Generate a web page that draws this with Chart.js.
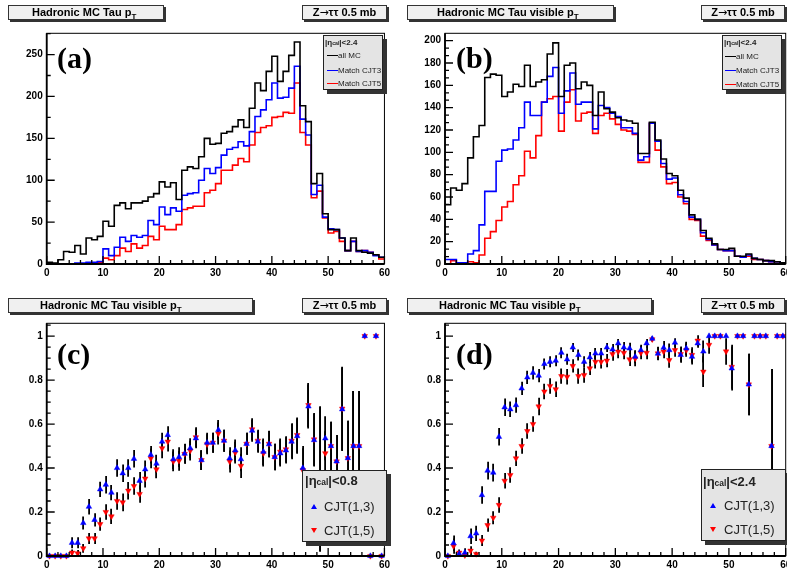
<!DOCTYPE html>
<html><head><meta charset="utf-8">
<script src="https://cdn.jsdelivr.net/npm/chart.js@4.4.1/dist/chart.umd.min.js"></script>
<style>
html,body{margin:0;padding:0;background:#fff;overflow:hidden;}
#page{position:relative;width:787px;height:571px;overflow:hidden;font-family:"Liberation Sans",Arial,sans-serif;}
.pane{position:absolute;}
.tbox{position:absolute;box-sizing:border-box;background:#f0f0f0;border:1px solid #333;box-shadow:2px 2px 0 #333;height:15px;}
.tbox span{position:absolute;top:0;line-height:13px;font-weight:bold;font-size:11px;white-space:nowrap;color:#000;}
.tbox sub{font-size:8px;vertical-align:-3px;line-height:0;}
.tbox .ar{position:static;font-family:"DejaVu Sans",sans-serif;font-weight:normal;font-size:11px;}
.plabel{position:absolute;font-family:"Liberation Serif","Times New Roman",serif;font-weight:bold;font-size:30px;line-height:30px;color:#000;}
.leg{position:absolute;box-sizing:border-box;background:#e4e4e4;border:1px solid #222;box-shadow:4px 4px 0 #333;overflow:hidden;}
.leg .t{position:absolute;white-space:nowrap;color:#222;}
.leg sub{font-size:65%;vertical-align:-25%;line-height:0;}
.ln{position:absolute;height:0;border-top:1.5px solid;}
.tri{position:absolute;width:0;height:0;border-left:3px solid transparent;border-right:3px solid transparent;}
</style></head>
<body><div id="page">
<div class="pane" style="left:0;top:0;width:393px;height:290px"><canvas id="ca" width="393" height="290"></canvas></div>
<div class="pane" style="left:395px;top:0;width:400px;height:290px"><canvas id="cb" width="400" height="290"></canvas></div>
<div class="pane" style="left:0;top:290px;width:393px;height:281px"><canvas id="cc" width="393" height="281"></canvas></div>
<div class="pane" style="left:395px;top:290px;width:400px;height:281px"><canvas id="cd" width="400" height="281"></canvas></div>

<div class="tbox" style="left:8px;top:5px;width:156px"><span style="left:23px">Hadronic MC Tau p<sub>T</sub></span></div>
<div class="tbox" style="left:302px;top:5px;width:85px"><span style="left:0;width:83px;text-align:center">Z<span class="ar">→</span>ττ 0.5 mb</span></div>
<div class="tbox" style="left:407px;top:5px;width:207px"><span style="left:29px">Hadronic MC Tau visible p<sub>T</sub></span></div>
<div class="tbox" style="left:701px;top:5px;width:84px"><span style="left:0;width:82px;text-align:center">Z<span class="ar">→</span>ττ 0.5 mb</span></div>
<div class="tbox" style="left:8px;top:298px;width:245px"><span style="left:31px">Hadronic MC Tau visible p<sub>T</sub></span></div>
<div class="tbox" style="left:302px;top:298px;width:85px"><span style="left:0;width:83px;text-align:center">Z<span class="ar">→</span>ττ 0.5 mb</span></div>
<div class="tbox" style="left:407px;top:298px;width:245px"><span style="left:31px">Hadronic MC Tau visible p<sub>T</sub></span></div>
<div class="tbox" style="left:701px;top:298px;width:84px"><span style="left:0;width:82px;text-align:center">Z<span class="ar">→</span>ττ 0.5 mb</span></div>

<div class="plabel" style="left:57px;top:43px">(a)</div>
<div class="plabel" style="left:456px;top:43px">(b)</div>
<div class="plabel" style="left:57px;top:339px">(c)</div>
<div class="plabel" style="left:456px;top:339px">(d)</div>

<div class="leg" style="left:323px;top:35px;width:60px;height:55px;font-size:8px">
  <div class="t" style="left:1px;top:1px;font-weight:bold;line-height:11px">|η<sub>cal</sub>|&lt;2.4</div>
  <div class="ln" style="left:3px;top:19px;width:11px;border-color:#000"></div>
  <div class="t" style="left:14px;top:15px;line-height:10px">all MC</div>
  <div class="ln" style="left:3px;top:34px;width:11px;border-color:#00f"></div>
  <div class="t" style="left:14px;top:30px;line-height:10px">Match CJT3</div>
  <div class="ln" style="left:3px;top:46.5px;width:11px;border-color:#f00"></div>
  <div class="t" style="left:14px;top:42.5px;line-height:10px">Match CJT5</div>
</div>
<div class="leg" style="left:722px;top:35px;width:60px;height:55px;font-size:8px">
  <div class="t" style="left:1px;top:1px;font-weight:bold;line-height:11px">|η<sub>cal</sub>|&lt;2.4</div>
  <div class="ln" style="left:2px;top:20px;width:11px;border-color:#000"></div>
  <div class="t" style="left:13px;top:16px;line-height:10px">all MC</div>
  <div class="ln" style="left:2px;top:34px;width:11px;border-color:#00f"></div>
  <div class="t" style="left:13px;top:30px;line-height:10px">Match CJT3</div>
  <div class="ln" style="left:2px;top:47.5px;width:11px;border-color:#f00"></div>
  <div class="t" style="left:13px;top:43.5px;line-height:10px">Match CJT5</div>
</div>
<div class="leg" style="left:302px;top:470px;width:85px;height:72px;font-size:13px">
  <div class="t" style="left:2px;top:2px;font-weight:bold;line-height:16px">|η<sub>cal</sub>|&lt;0.8</div>
  <div class="tri" style="left:8px;top:33px;border-bottom:5px solid #00f"></div>
  <div class="t" style="left:21px;top:28px;line-height:16px">CJT(1,3)</div>
  <div class="tri" style="left:8px;top:57px;border-top:5px solid #f00"></div>
  <div class="t" style="left:21px;top:52px;line-height:16px">CJT(1,5)</div>
</div>
<div class="leg" style="left:701px;top:469px;width:85px;height:72px;font-size:13px">
  <div class="t" style="left:1px;top:4px;font-weight:bold;line-height:16px">|η<sub>cal</sub>|&lt;2.4</div>
  <div class="tri" style="left:8px;top:33px;border-bottom:5px solid #00f"></div>
  <div class="t" style="left:22px;top:28px;line-height:16px">CJT(1,3)</div>
  <div class="tri" style="left:8px;top:57px;border-top:5px solid #f00"></div>
  <div class="t" style="left:22px;top:52px;line-height:16px">CJT(1,5)</div>
</div>
</div>
<script>
// ---------- data ----------
const binEdgeMin = 0, binEdgeMax = 60;
const xTickLabels = [0, 10, 20, 30, 40, 50, 60];

// (a) Hadronic MC Tau pT
const aAllMC = [2,1,5,15,14,22,12,31,29,33,51,45,70,73,66,73,73,75,80,84,98,92,97,77,112,116,114,128,150,143,144,156,158,164,172,163,186,216,207,230,248,218,230,249,265,189,170,96,108,60,41,41,31,16,31,16,14,13,11,8];
const aCJT3  = [0,0,0,0,0,1,1,2,2,3,18,10,20,32,27,34,32,34,52,47,68,59,67,63,82,84,85,100,114,108,115,130,137,139,146,141,158,176,184,196,216,198,199,210,236,173,154,83,94,56,42,41,31,16,27,15,16,14,10,8];
const aCJT5  = [0,0,0,0,0,0,0,0,1,2,7,5,10,19,15,24,19,22,33,29,45,41,41,47,65,67,69,69,85,88,96,112,112,118,126,122,142,157,163,165,175,176,181,180,216,157,142,79,87,55,37,39,27,16,27,15,16,14,11,6];

// (b) Hadronic MC Tau visible pT
const bAllMC = [53,68,66,72,95,114,124,167,170,169,150,154,161,159,178,159,163,165,188,198,150,178,180,157,163,160,133,154,139,136,131,129,128,126,99,99,127,111,94,81,79,66,59,44,40,30,23,18,13,13,14,7,7,9,5,4,3,3,2,1];
const bCJT3  = [4,4,1,1,9,12,35,65,65,92,102,103,111,122,145,133,133,145,168,176,135,155,171,143,145,145,121,142,140,135,132,122,122,117,93,96,126,110,90,76,77,62,56,42,40,28,22,17,13,12,12,7,6,8,5,4,3,2,2,1];
const bCJT5  = [0,3,1,1,2,1,8,23,29,39,51,56,71,79,101,95,115,145,148,150,119,145,156,128,135,136,117,133,135,130,125,120,119,116,91,91,126,102,87,72,73,60,54,40,39,25,21,17,13,12,12,7,6,7,4,4,3,2,2,1];

// (c) efficiency, |eta_cal|<0.8
const cCJT3 = [0,0,0,0,0.06,0.06,0.15,0.224,0.164,0.303,0.324,0.288,0.40,0.376,0.40,0.442,0.342,0.394,0.46,0.42,0.52,0.55,0.44,0.45,0.465,0.49,0.535,0.436,0.515,0.515,0.573,0.524,0.444,0.48,0.44,0.51,0.57,0.52,0.474,0.508,0.45,0.467,0.48,0.52,0.545,0.40,0.68,0.527,0.35,0.535,0.5,0.43,0.667,0.445,0.5,0.5,1,0,1,0];
const cCJT5 = [0,0,0,0,0.015,0.012,0.035,0.08,0.08,0.145,0.20,0.18,0.25,0.244,0.297,0.318,0.282,0.352,0.444,0.394,0.49,0.52,0.43,0.433,0.464,0.479,0.54,0.436,0.508,0.515,0.557,0.524,0.43,0.47,0.41,0.51,0.576,0.524,0.467,0.51,0.45,0.474,0.485,0.524,0.55,0.39,0.686,0.53,0.35,0.467,0.5,0.43,0.67,0.445,0.5,0.5,1,0,1,0];
const cErr3 = [0,0,0,0,0.025,0.025,0.03,0.035,0.03,0.035,0.04,0.035,0.04,0.04,0.04,0.04,0.04,0.04,0.04,0.04,0.04,0.04,0.045,0.045,0.045,0.045,0.045,0.045,0.045,0.045,0.045,0.05,0.05,0.05,0.055,0.05,0.05,0.05,0.06,0.06,0.06,0.06,0.06,0.08,0.08,0.1,0.1,0.12,0.33,0.1,0.11,0.12,0.19,0.17,0.25,0.25,0,0,0,0];
const cErr5 = [0,0,0,0,0.015,0.015,0.02,0.025,0.025,0.03,0.035,0.035,0.04,0.04,0.04,0.04,0.04,0.04,0.045,0.04,0.045,0.045,0.045,0.045,0.045,0.045,0.045,0.045,0.045,0.045,0.05,0.05,0.05,0.05,0.055,0.05,0.05,0.05,0.06,0.06,0.06,0.06,0.06,0.08,0.08,0.1,0.1,0.12,0.33,0.1,0.11,0.12,0.19,0.17,0.25,0.25,0,0,0,0];

// (d) efficiency, |eta_cal|<2.4
const dCJT3 = [0,0.058,0.01,0.015,0.09,0.103,0.277,0.388,0.379,0.542,0.676,0.667,0.686,0.762,0.812,0.833,0.82,0.873,0.883,0.888,0.924,0.894,0.948,0.914,0.883,0.903,0.921,0.921,0.948,0.939,0.967,0.948,0.944,0.906,0.936,0.967,0.988,0.92,0.947,0.936,0.97,0.914,0.944,0.906,0.967,0.93,1,1,1,1,0.853,1,1,0.78,1,1,1,0.5,1,1];
const dCJT5 = [0,0.045,0.015,0.003,0.024,0.009,0.07,0.14,0.174,0.232,0.342,0.368,0.444,0.5,0.568,0.6,0.68,0.748,0.773,0.758,0.818,0.815,0.864,0.818,0.823,0.853,0.883,0.883,0.888,0.918,0.929,0.924,0.894,0.898,0.924,0.924,0.985,0.921,0.929,0.891,0.936,0.918,0.936,0.914,0.979,0.838,0.96,1,1,0.93,0.86,1,1,0.78,1,1,1,0.5,1,1];
const dErr3 = [0,0.035,0.01,0.02,0.035,0.035,0.04,0.04,0.04,0.04,0.04,0.035,0.035,0.03,0.03,0.03,0.03,0.025,0.025,0.025,0.025,0.025,0.02,0.025,0.025,0.025,0.025,0.025,0.02,0.025,0.02,0.025,0.025,0.03,0.025,0.02,0.01,0.03,0.03,0.03,0.02,0.035,0.03,0.035,0.02,0.05,0,0,0,0,0.1,0,0,0.14,0,0,0,0.35,0,0];
const dErr5 = [0,0.035,0.015,0.01,0.02,0.01,0.025,0.03,0.03,0.035,0.035,0.035,0.035,0.035,0.035,0.035,0.04,0.035,0.035,0.035,0.035,0.035,0.03,0.035,0.035,0.03,0.03,0.03,0.03,0.03,0.03,0.03,0.03,0.035,0.03,0.03,0.01,0.03,0.03,0.035,0.03,0.035,0.03,0.035,0.025,0.07,0.04,0,0,0.06,0.1,0,0,0.14,0,0,0,0.35,0,0];

// ---------- helpers ----------
function histPoints(vals) {
  const pts = vals.map((v, i) => ({x: binEdgeMin + i, y: v}));
  pts.push({x: binEdgeMin + vals.length, y: vals[vals.length - 1]});
  return pts;
}
function centerPoints(vals) { return vals.map((v, i) => ({x: binEdgeMin + i + 0.5, y: v})); }

function histDS(vals, color) {
  return {data: histPoints(vals), stepped: true, borderColor: color, borderWidth: 1.6,
          pointRadius: 0, fill: false, tension: 0};
}
function effDS(vals, errs, color, down) {
  return {data: centerPoints(vals), errors: errs, showLine: false, pointStyle: 'triangle',
          pointRadius: 3.2, rotation: down ? 180 : 0, backgroundColor: color, borderColor: color,
          borderWidth: 0.5, clip: false};
}

const errPlugin = {
  id: 'errBars',
  beforeDatasetsDraw(chart) {
    const {ctx, chartArea: a, scales: {x, y}} = chart;
    ctx.save();
    ctx.beginPath(); ctx.rect(a.left, a.top - 2, a.right - a.left, a.bottom - a.top + 2); ctx.clip();
    ctx.strokeStyle = '#000'; ctx.lineWidth = 1.8;
    chart.data.datasets.forEach(ds => {
      if (!ds.errors) return;
      ds.data.forEach((p, i) => {
        const e = ds.errors[i]; if (!e) return;
        const px = Math.round(x.getPixelForValue(p.x)) + 0.1;
        ctx.beginPath();
        ctx.moveTo(px, y.getPixelForValue(Math.max(0, p.y - e)));
        ctx.lineTo(px, y.getPixelForValue(p.y + e));
        ctx.stroke();
      });
    });
    ctx.restore();
  }
};

const rootFrame = {
  id: 'rootFrame',
  afterDraw(chart, args, opts) {
    const {ctx, chartArea: a, scales: {x, y}} = chart;
    ctx.save();
    ctx.strokeStyle = '#000';
    ctx.lineWidth = 1;
    ctx.strokeRect(a.left, a.top, a.right - a.left, a.bottom - a.top);
    ctx.lineWidth = 1.8;
    ctx.beginPath();
    ctx.moveTo(a.left, a.top); ctx.lineTo(a.left, a.bottom); ctx.lineTo(a.right, a.bottom);
    ctx.stroke();
    ctx.lineWidth = 1.3;
    ctx.beginPath();
    for (let k = 0; k <= 30; k++) {
      const v = binEdgeMin + k * 2;
      const px = x.getPixelForValue(v);
      const len = (k % 5 === 0) ? 8 : 4;
      ctx.moveTo(px, a.bottom); ctx.lineTo(px, a.bottom - len);
    }
    const nMinor = Math.floor(opts.yMax / opts.yMinor + 1e-6);
    const per = Math.round(opts.yMajor / opts.yMinor);
    for (let k = 0; k <= nMinor; k++) {
      const py = y.getPixelForValue(k * opts.yMinor);
      const len = (k % per === 0) ? 8 : 4;
      ctx.moveTo(a.left, py); ctx.lineTo(a.left + len, py);
    }
    ctx.stroke();
    ctx.restore();
  }
};

const tickFont = {family: "'Liberation Sans', Arial, sans-serif", weight: 'bold', size: 10};
const fmt = v => String(+Number(v).toFixed(3));

function makeChart(id, cfg) {
  return new Chart(document.getElementById(id), {
    type: 'line',
    data: {datasets: cfg.datasets},
    options: {
      responsive: false, animation: false, devicePixelRatio: 1, events: [],
      layout: {padding: {left: 0, top: cfg.padTop, right: cfg.padRight, bottom: 0}},
      plugins: {legend: {display: false}, tooltip: {enabled: false},
                rootFrame: {yMax: cfg.yMax, yMajor: cfg.yMajor, yMinor: cfg.yMinor}},
      scales: {
        x: {type: 'linear', min: binEdgeMin, max: binEdgeMax,
            grid: {display: false, drawTicks: false}, border: {display: false},
            afterBuildTicks: s => { s.ticks = xTickLabels.map(v => ({value: v})); },
            ticks: {stepSize: 10, font: tickFont, color: '#000', padding: 3, maxRotation: 0, autoSkip: false, callback: fmt},
            afterFit: s => { s.height = cfg.xH; }},
        y: {type: 'linear', min: 0, max: cfg.yMax,
            grid: {display: false, drawTicks: false}, border: {display: false},
            ticks: {stepSize: cfg.yMajor, includeBounds: false, font: tickFont, color: '#000', padding: 4, callback: fmt},
            afterFit: s => { s.width = cfg.yW; }}
      }
    },
    plugins: [errPlugin, rootFrame]
  });
}

makeChart('ca', {yMax: 275.4, yMajor: 50, yMinor: 25, yW: 46.7, padTop: 33.3, padRight: 6.3, xH: 26,
  datasets: [histDS(aAllMC, '#000'), histDS(aCJT3, '#0000ff'), histDS(aCJT5, '#ff0000')]});
makeChart('cb', {yMax: 206.6, yMajor: 20, yMinor: 20/3, yW: 50, padTop: 33.3, padRight: 9.3, xH: 26,
  datasets: [histDS(bAllMC, '#000'), histDS(bCJT3, '#0000ff'), histDS(bCJT5, '#ff0000')]});
makeChart('cc', {yMax: 1.058, yMajor: 0.2, yMinor: 0.05, yW: 46.7, padTop: 33.3, padRight: 6.3, xH: 15,
  datasets: [effDS(cCJT3, cErr3, '#0000ff', false), effDS(cCJT5, cErr5, '#ff0000', true)]});
makeChart('cd', {yMax: 1.058, yMajor: 0.2, yMinor: 0.05, yW: 50, padTop: 33.3, padRight: 9.3, xH: 15,
  datasets: [effDS(dCJT3, dErr3, '#0000ff', false), effDS(dCJT5, dErr5, '#ff0000', true)]});
</script>
</body></html>
